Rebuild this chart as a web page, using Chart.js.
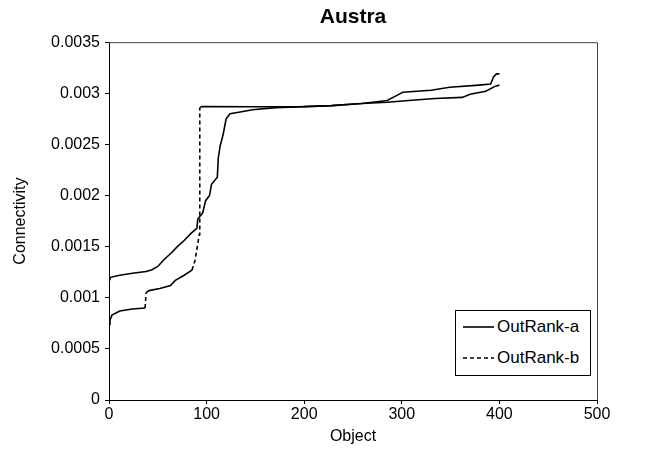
<!DOCTYPE html>
<html>
<head>
<meta charset="utf-8">
<title>Austra</title>
<script src="https://cdn.jsdelivr.net/npm/chart.js@4.4.0/dist/chart.umd.min.js"></script>
<style>
  body { margin: 0; background: #fff; }
  .wrap { position: relative; width: 651px; height: 455px; }
  .legend {
    position: absolute; left: 455px; top: 310px; width: 134px; height: 64px;
    border: 1px solid #000; background: #fff;
    font: 17px "Liberation Sans", Arial, sans-serif; color: #000;
  }
  .legend__row { display: flex; align-items: center; height: 30px; margin-top: 1px; }
  .legend__swatch { display: block; margin-left: 7px; margin-right: 3px; }
</style>
</head>
<body>
<div class="wrap">
  <canvas id="chart" width="651" height="455"></canvas>
  <div class="legend" id="legend"></div>
</div>
<script>
// Chart text
const chartTitle = 'Austra';
const xTitle = 'Object';
const yTitle = 'Connectivity';
const seriesNames = ['OutRank-a', 'OutRank-b'];

// OutRank-a (solid)
const aObjects = [0, 1.6, 11, 24, 38, 44, 50, 56, 64, 70, 77, 84, 90, 91, 96, 99, 103, 105,
  111, 112, 114, 117, 120, 124, 133, 147, 171, 200, 228, 259, 285, 295, 301, 330, 349, 379,
  391, 394, 397, 400];
const aValues = [0.00116, 0.0012, 0.00122, 0.00124, 0.001257, 0.001274, 0.001306, 0.00137,
  0.00144, 0.0015, 0.00156, 0.00163, 0.00168, 0.00177, 0.00183, 0.00195, 0.002, 0.00211,
  0.00218, 0.00237, 0.00249, 0.0026, 0.00275, 0.0028, 0.002815, 0.00284, 0.00286, 0.00287,
  0.00288, 0.0029, 0.00293, 0.00298, 0.00301, 0.00303, 0.00306, 0.00308,
  0.00309, 0.00316, 0.00319, 0.00319];

// OutRank-b (dashed)
const bObjects = [0, 1, 3, 11, 24, 37, 38, 41, 52, 63, 68, 77, 85, 88, 90, 92.5, 93, 95,
  150, 200, 228, 259, 285, 307, 334, 362, 370, 386, 396, 400];
const bValues = [0.00074, 0.00078, 0.00083, 0.00087, 0.00089, 0.0009, 0.00105, 0.00107,
  0.00109, 0.00112, 0.00117, 0.00122, 0.00127, 0.00136, 0.00147, 0.00162, 0.00286, 0.00287,
  0.002868, 0.00287, 0.00288, 0.0029, 0.002913, 0.00293, 0.00295, 0.00296, 0.00299, 0.00302,
  0.00307, 0.00308];

// Axis ticks
const xTicks = [0, 100, 200, 300, 400, 500];
const yTicks = [0, 0.0005, 0.001, 0.0015, 0.002, 0.0025, 0.003, 0.0035];

const FONT = '"Liberation Sans", Arial, sans-serif';
Chart.defaults.font.family = FONT;
Chart.defaults.color = '#000';

const toPoints = (xs, ys) => xs.map((x, i) => ({ x, y: ys[i] }));

// Excel restarts the dash on every segment, so only long steep jumps look dashed
const steepDash = ctx => {
  const dx = Math.abs(ctx.p1.x - ctx.p0.x);
  const dy = Math.abs(ctx.p1.y - ctx.p0.y);
  return dy > 6 && dy > 2 * dx ? [4, 3] : [];
};

// top/right border of the plot area
const plotFrame = {
  id: 'plotFrame',
  afterDatasetsDraw(chart) {
    const { ctx, chartArea: { left, top, right, bottom } } = chart;
    ctx.save();
    ctx.strokeStyle = '#404040';
    ctx.lineWidth = 1;
    ctx.beginPath();
    ctx.moveTo(left, top + 0.5);
    ctx.lineTo(right + 0.5, top + 0.5);
    ctx.lineTo(right + 0.5, bottom);
    ctx.stroke();
    ctx.restore();
  }
};

const tickFont = { size: 16 };
const titleFont = { size: 16 };

new Chart(document.getElementById('chart'), {
  type: 'line',
  data: {
    datasets: [{
      label: seriesNames[0],
      data: toPoints(aObjects, aValues),
      borderColor: '#000',
      borderWidth: 1.6,
      pointRadius: 0,
      tension: 0
    }, {
      label: seriesNames[1],
      data: toPoints(bObjects, bValues),
      borderColor: '#000',
      borderWidth: 1.6,
      borderDash: [],
      pointRadius: 0,
      tension: 0,
      segment: { borderDash: steepDash }
    }]
  },
  options: {
    responsive: false,
    animation: false,
    events: [],
    layout: { padding: { left: 7, right: 54, top: 5, bottom: 5 } },
    plugins: {
      legend: { display: false },
      tooltip: { enabled: false },
      title: {
        display: true,
        fullSize: false,
        text: chartTitle,
        color: '#000',
        font: { size: 21, weight: 'bold' },
        padding: { top: 0, bottom: 12 }
      }
    },
    scales: {
      x: {
        type: 'linear',
        min: 0,
        max: 500,
        afterBuildTicks: s => { s.ticks = xTicks.map(v => ({ value: v })); },
        afterFit: s => { s.height = 50; },
        ticks: {
          font: tickFont,
          padding: 1,
          maxRotation: 0,
          autoSkip: false,
          callback: v => String(v)
        },
        grid: { drawOnChartArea: false, drawTicks: true, tickLength: 4, color: '#000' },
        border: { color: '#000', width: 1 },
        title: { display: true, text: xTitle, font: titleFont, padding: { top: 0, bottom: 4 } }
      },
      y: {
        min: 0,
        max: 0.0035,
        afterBuildTicks: s => { s.ticks = yTicks.map(v => ({ value: v })); },
        afterFit: s => { s.width = 102; },
        ticks: {
          font: tickFont,
          padding: 5,
          autoSkip: false,
          callback: v => String(v)
        },
        grid: { drawOnChartArea: false, drawTicks: true, tickLength: 4, color: '#000' },
        border: { color: '#000', width: 1 },
        title: { display: true, text: yTitle, font: titleFont, padding: { top: 4, bottom: 0 } }
      }
    }
  },
  plugins: [plotFrame]
});

// legend drawn as HTML so it can sit inside the plot area
const legendStyles = [[], [4, 3]];
document.getElementById('legend').innerHTML = seriesNames.map((name, i) => `
  <div class="legend__row">
    <svg class="legend__swatch" width="31" height="4">
      <line x1="0" y1="2" x2="31" y2="2" stroke="#000" stroke-width="1.6"
        stroke-dasharray="${legendStyles[i].join(' ')}"/>
    </svg>
    <span>${name}</span>
  </div>`).join('');
</script>
</body>
</html>
